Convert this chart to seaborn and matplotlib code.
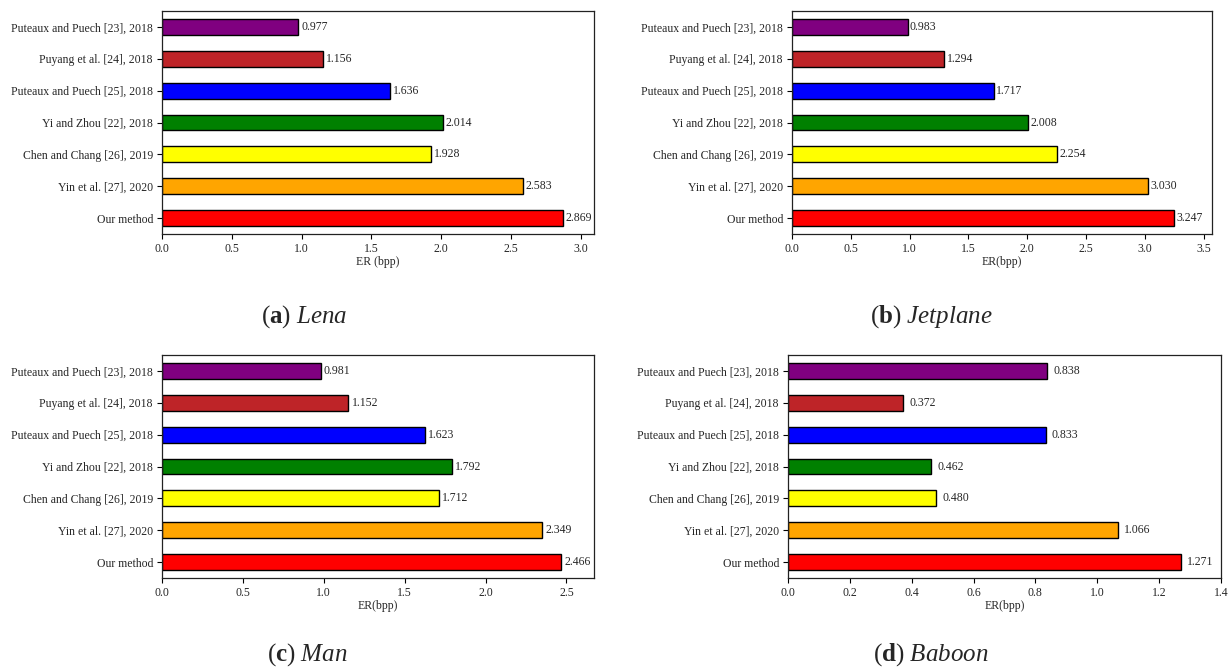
import matplotlib
matplotlib.use("Agg")
import matplotlib.pyplot as plt
import seaborn as sns
import pandas as pd

methods = ["Puteaux and Puech [23], 2018", "Puyang et al. [24], 2018",
           "Puteaux and Puech [25], 2018", "Yi and Zhou [22], 2018",
           "Chen and Chang [26], 2019", "Yin et al. [27], 2020", "Our method"]
colors = ["#800080", "#BE2428", "#0000FF", "#008000", "#FFFF00", "#FFA500", "#FF0000"]

lena = [0.977, 1.156, 1.636, 2.014, 1.928, 2.583, 2.869]
jetplane = [0.983, 1.294, 1.717, 2.008, 2.254, 3.030, 3.247]
man = [0.981, 1.152, 1.623, 1.792, 1.712, 2.349, 2.466]
baboon = [0.838, 0.372, 0.833, 0.462, 0.480, 1.066, 1.271]

panels = [
    ("a", "Lena", lena, "ER (bpp)", 3.094, [0, 0.5, 1.0, 1.5, 2.0, 2.5, 3.0]),
    ("b", "Jetplane", jetplane, "ER(bpp)", 3.57, [0, 0.5, 1.0, 1.5, 2.0, 2.5, 3.0, 3.5]),
    ("c", "Man", man, "ER(bpp)", 2.67, [0, 0.5, 1.0, 1.5, 2.0, 2.5]),
    ("d", "Baboon", baboon, "ER(bpp)", 1.40, [0, 0.2, 0.4, 0.6, 0.8, 1.0, 1.2, 1.4]),
]

sns.set_style("white")
plt.rcParams['font.family'] = ['Liberation Serif', 'DejaVu Serif']
plt.rcParams['mathtext.fontset'] = 'custom'
plt.rcParams['mathtext.rm'] = 'Liberation Serif'
plt.rcParams['mathtext.it'] = 'Liberation Serif:italic'
plt.rcParams['mathtext.bf'] = 'Liberation Serif:bold'

W, H = 1230, 669
fig = plt.figure(figsize=(W / 100, H / 100), dpi=100)

# pixel boxes: left, right, top, bottom
boxes = [(162, 594, 11, 234), (792, 1212, 11, 234),
         (162, 594, 355, 578), (788, 1221, 355, 578)]
caption_pos = [(304, 317), (931, 317), (307, 655), (931, 655)]

fs = 8.5
for (letter, name, vals, xlab, xmax, ticks), (l, r, t, b), (cx, cy) in zip(panels, boxes, caption_pos):
    ax = fig.add_axes([l / W, 1 - b / H, (r - l) / W, (b - t) / H])
    df = pd.DataFrame({"method": methods, "er": vals})
    sns.barplot(data=df, y="method", x="er", hue="method", palette=colors,
                order=methods, hue_order=methods, orient="h", width=0.5,
                saturation=1, edgecolor="black", linewidth=1.0, legend=False, ax=ax)
    for i, v in enumerate(vals):
        ax.text(v + 0.02, i, f"{v:.3f}", va="center", ha="left", fontsize=fs)
    ax.set_xlim(0, xmax)
    ax.set_ylim(6.5, -0.5)
    ax.set_xticks(ticks)
    ax.set_xticklabels([f"{x:.1f}" for x in ticks], fontsize=fs)
    ax.tick_params(axis="y", labelsize=fs)
    ax.tick_params(axis="both", which="major", direction="out", length=3.5,
                   width=0.8, color="black", bottom=True, left=True, pad=3)
    ax.set_xlabel(xlab, fontsize=fs, labelpad=1)
    ax.set_ylabel("")
    for s in ax.spines.values():
        s.set_visible(True)
        s.set_color("#222222")
        s.set_linewidth(0.9)
    fig.text(cx / W, 1 - cy / H, rf"($\mathbf{{{letter}}}$) $\mathit{{{name}}}$",
             fontsize=18, ha="center", va="center")

fig.savefig("out.png", dpi=100)
